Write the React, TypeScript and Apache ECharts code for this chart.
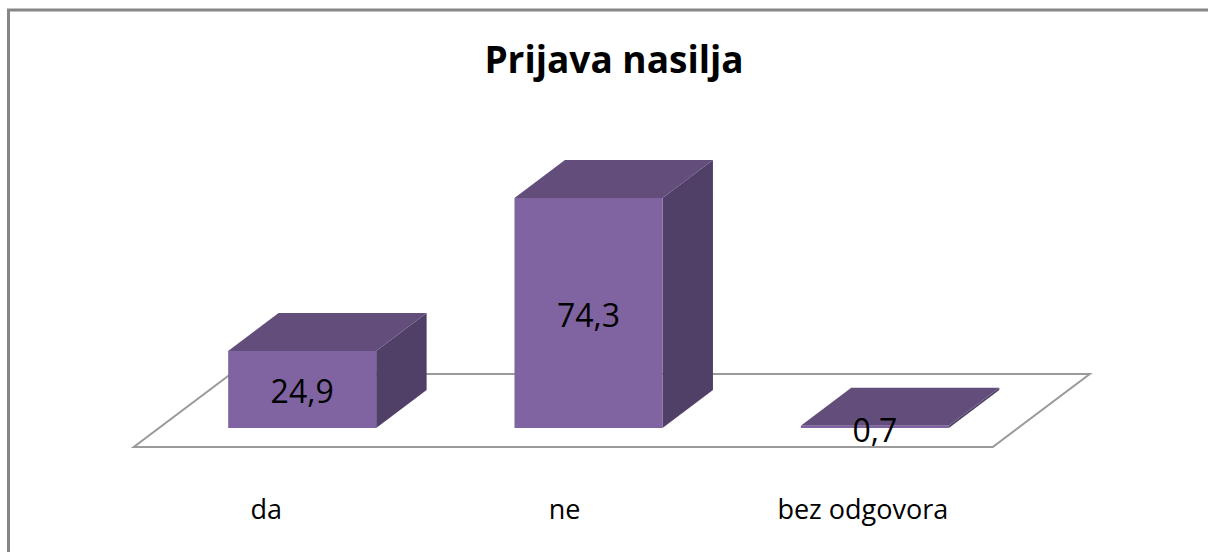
import React, { useEffect, useRef } from "react";
import * as echarts from "echarts";

const title = "Prijava nasilja";
const categories = ["da", "ne", "bez odgovora"];
const values = [24.9, 74.3, 0.7];

const FRONT = "#8064a2";
const TOP = "#624d7b";
const SIDE = "#503f67";
const FLOOR_LINE = "#9a9a9a";

// depth vector of the whole floor (screen px), and fractions
const DEPTH_X = 97;
const DEPTH_Y = -73;
const FLOOR_FRONT = -0.26;
const FLOOR_BACK = 0.74;
const BAR_DEPTH = 0.52;
const BAR_RATIO = 0.517;

export default function App() {
  const ref = useRef<HTMLDivElement>(null);
  useEffect(() => {
    if (!ref.current) return;
    const chart = echarts.init(ref.current, null, { renderer: "svg" });
    const fmt = (v: number) => v.toFixed(1).replace(".", ",");
    chart.setOption({
      animation: false,
      backgroundColor: "#ffffff",
      graphic: [
        {
          type: "rect",
          shape: { x: 8.5, y: 10, width: 1400, height: 800 },
          style: { fill: "none", stroke: "#868686", lineWidth: 3 },
          z: 0,
        },
        {
          type: "text",
          x: 614,
          y: 58,
          style: {
            text: title,
            align: "center",
            verticalAlign: "middle",
            font: "bold 37px 'Open Sans'",
            fill: "#000000",
          },
        },
      ],
      grid: [
        { left: 159, right: 190, top: 118.5, bottom: 124 },
        { left: 117, right: 196, top: 118.5, bottom: 105 },
      ],
      xAxis: [
        {
          type: "category",
          gridIndex: 0,
          data: categories,
          axisLine: { show: false },
          axisTick: { show: false },
          axisLabel: { show: false },
        },
        {
          type: "category",
          gridIndex: 1,
          data: categories,
          axisLine: { show: false },
          axisTick: { show: false },
          axisLabel: {
            color: "#000000",
            fontFamily: "'Open Sans'",
            fontSize: 27,
            lineHeight: 30,
            margin: 46,
          },
        },
      ],
      yAxis: [
        { type: "value", gridIndex: 0, min: 0, max: 100, show: false },
        { type: "value", gridIndex: 1, min: 0, max: 100, show: false },
      ],
      series: [
        {
          type: "custom",
          xAxisIndex: 0,
          yAxisIndex: 0,
          z: 1,
          data: [[0, 0]],
          renderItem: (params: any, api: any) => {
            const band = api.size([1, 0])[0];
            const first = api.coord([0, 0]);
            const last = api.coord([categories.length - 1, 0]);
            const xl = first[0] - band / 2;
            const xr = last[0] + band / 2;
            const y = first[1];
            const fx = DEPTH_X * FLOOR_FRONT;
            const fy = DEPTH_Y * FLOOR_FRONT;
            const bx = DEPTH_X * FLOOR_BACK;
            const by = DEPTH_Y * FLOOR_BACK;
            return {
              type: "polygon",
              shape: {
                points: [
                  [xl + fx, y + fy],
                  [xr + fx, y + fy],
                  [xr + bx, y + by],
                  [xl + bx, y + by],
                ],
              },
              style: { fill: "#ffffff", stroke: FLOOR_LINE, lineWidth: 2 },
            };
          },
        },
        {
          type: "custom",
          xAxisIndex: 0,
          yAxisIndex: 0,
          z: 2,
          data: values.map((v, i) => [i, v]),
          renderItem: (params: any, api: any) => {
            const idx = api.value(0);
            const val = api.value(1);
            const band = api.size([1, 0])[0];
            const w = band * BAR_RATIO;
            const p0 = api.coord([idx, 0]);
            const p1 = api.coord([idx, val]);
            const x0 = p0[0] - w / 2;
            const x1 = p0[0] + w / 2;
            const yb = p0[1];
            const yt = p1[1];
            const dx = DEPTH_X * BAR_DEPTH;
            const dy = DEPTH_Y * BAR_DEPTH;
            const labelY = yb - yt < 30 ? yb + 1 : (yt + yb) / 2 + 1;
            return {
              type: "group",
              children: [
                {
                  type: "polygon",
                  shape: {
                    points: [
                      [x1, yt],
                      [x1 + dx, yt + dy],
                      [x1 + dx, yb + dy],
                      [x1, yb],
                    ],
                  },
                  style: { fill: SIDE },
                },
                {
                  type: "polygon",
                  shape: {
                    points: [
                      [x0, yt],
                      [x0 + dx, yt + dy],
                      [x1 + dx, yt + dy],
                      [x1, yt],
                    ],
                  },
                  style: { fill: TOP },
                },
                {
                  type: "rect",
                  shape: { x: x0, y: yt, width: w, height: yb - yt },
                  style: { fill: FRONT },
                },
                {
                  type: "text",
                  x: p0[0],
                  y: labelY,
                  style: {
                    text: fmt(val),
                    align: "center",
                    verticalAlign: "middle",
                    font: "32px 'Open Sans'",
                    fill: "#000000",
                  },
                },
              ],
            };
          },
        },
      ],
    });
    return () => chart.dispose();
  }, []);
  return (
    <div
      ref={ref}
      style={{ position: "fixed", left: 0, top: 0, width: 1208, height: 552 }}
    />
  );
}
